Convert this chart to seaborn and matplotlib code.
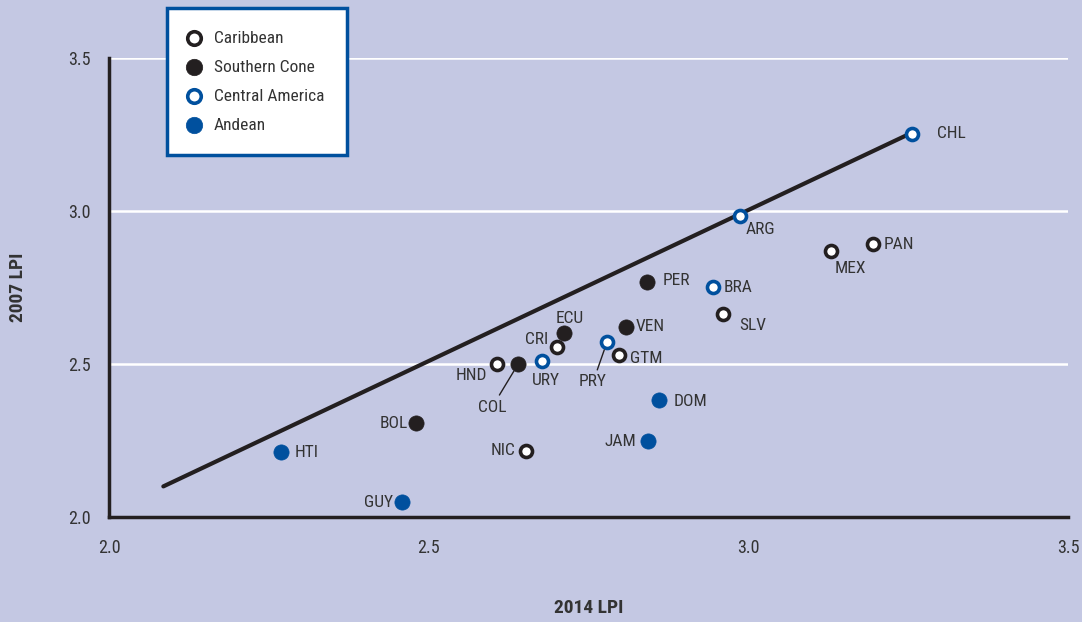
import pandas as pd
import numpy as np
import matplotlib
matplotlib.use('Agg')
import matplotlib.pyplot as plt
import matplotlib.font_manager as fm
import seaborn as sns

# values
countries = ['CHL', 'ARG', 'PAN', 'MEX', 'PER', 'BRA', 'SLV', 'VEN', 'ECU', 'CRI',
             'PRY', 'GTM', 'HND', 'COL', 'URY', 'DOM', 'BOL', 'JAM', 'NIC', 'HTI', 'GUY']
lpi_2014 = [3.256, 2.987, 3.195, 3.129, 2.842, 2.945, 2.960, 2.809, 2.712, 2.701,
            2.779, 2.798, 2.607, 2.640, 2.677, 2.860, 2.480, 2.843, 2.652, 2.269, 2.458]
lpi_2007 = [3.252, 2.984, 2.892, 2.869, 2.768, 2.752, 2.663, 2.621, 2.601, 2.556,
            2.572, 2.529, 2.500, 2.500, 2.510, 2.382, 2.307, 2.248, 2.216, 2.212, 2.049]
regions = ['Central America', 'Central America', 'Caribbean', 'Caribbean', 'Southern Cone',
           'Central America', 'Caribbean', 'Southern Cone', 'Southern Cone', 'Caribbean',
           'Central America', 'Caribbean', 'Caribbean', 'Southern Cone', 'Central America',
           'Andean', 'Southern Cone', 'Andean', 'Caribbean', 'Andean', 'Andean']
region_order = ['Caribbean', 'Southern Cone', 'Central America', 'Andean']

# reference line
line_x = [2.085, 3.25]
line_y = [2.10, 3.25]

# label offsets in pixels (dx, dy, ha)
label_pos = {
    'CHL': (25, 0, 'left'), 'ARG': (6, -14, 'left'), 'PAN': (11, 0, 'left'),
    'MEX': (4, -17, 'left'), 'PER': (15, 1, 'left'), 'BRA': (10, -1, 'left'),
    'SLV': (16, -11, 'left'), 'VEN': (9, 0, 'left'), 'ECU': (5, 15, 'center'),
    'CRI': (-9, 7, 'right'), 'GTM': (11, -3, 'left'), 'HND': (-10, -11, 'right'),
    'COL': (-26, -43, 'center'), 'URY': (4, -20, 'center'), 'PRY': (-14, -40, 'center'),
    'DOM': (15, -1, 'left'), 'BOL': (-8, 0, 'right'), 'JAM': (-12, 0, 'right'),
    'NIC': (-10, 0, 'right'), 'HTI': (14, 0, 'left'), 'GUY': (-9, 0, 'right'),
}
leader = ['COL', 'PRY']

df = pd.DataFrame({'country': countries, 'x': lpi_2014, 'y': lpi_2007, 'region': regions})

bg = '#c4c8e3'
blue = '#00509e'
black = '#231f20'
txt = '#333333'
styles = {
    'Caribbean': dict(facecolor='white', edgecolor=black),
    'Southern Cone': dict(facecolor=black, edgecolor=black),
    'Central America': dict(facecolor='white', edgecolor=blue),
    'Andean': dict(facecolor=blue, edgecolor=blue),
}

sns.set_style('white')
names = {f.name for f in fm.fontManager.ttflist}
fam = [n for n in ['Liberation Sans Narrow', 'Roboto Condensed', 'Roboto'] if n in names]
plt.rcParams['font.family'] = fam + ['DejaVu Sans']

fig = plt.figure(figsize=(10.82, 6.22), dpi=100)
fig.patch.set_facecolor(bg)
ax = fig.add_axes([109 / 1082, 1 - 517 / 622, (1068 - 109) / 1082, (517 - 58) / 622])
ax.set_facecolor(bg)

for y in [2.5, 3.0, 3.5]:
    ax.axhline(y, color='white', lw=1.8, zorder=0)

sns.lineplot(x=line_x, y=line_y, color=black, lw=3, ax=ax, zorder=2)

for reg in region_order:
    sub = df[df['region'] == reg]
    hollow = styles[reg]['facecolor'] == 'white'
    sns.scatterplot(data=sub, x='x', y='y', s=75 if hollow else 120,
                    linewidth=2.6 if hollow else 0.5,
                    facecolor=styles[reg]['facecolor'], edgecolor=styles[reg]['edgecolor'],
                    ax=ax, zorder=3, label=reg)

for _, r in df.iterrows():
    dx, dy, ha = label_pos[r['country']]
    kw = {}
    if r['country'] in leader:
        kw['arrowprops'] = dict(arrowstyle='-', color=black, lw=1, shrinkA=1, shrinkB=6)
    ax.annotate(r['country'], (r['x'], r['y']), xytext=(dx, dy), textcoords='offset pixels',
                ha=ha, va='center', fontsize=12.5, color=txt, **kw)

ax.set_xlim(2.0, 3.5)
ax.set_ylim(2.0, 3.5)
ax.set_xticks([2.0, 2.5, 3.0, 3.5])
ax.set_yticks([2.0, 2.5, 3.0, 3.5])
ax.set_xticklabels(['2.0', '2.5', '3.0', '3.5'])
ax.set_yticklabels(['2.0', '2.5', '3.0', '3.5'])
ax.tick_params(axis='x', direction='in', length=10, width=2.5, color=black, pad=16,
               labelsize=13, labelcolor=txt)
ax.tick_params(axis='y', length=0, pad=13, labelsize=13, labelcolor=txt)

for side in ['top', 'right']:
    ax.spines[side].set_visible(False)
for side in ['left', 'bottom']:
    ax.spines[side].set_color(black)
    ax.spines[side].set_linewidth(2.5)

ax.set_xlabel('2014 LPI', fontsize=14, fontweight='bold', color=txt, labelpad=30)
ax.set_ylabel('2007 LPI', fontsize=14, fontweight='bold', color=txt, labelpad=30)

leg = ax.legend(loc='upper left', bbox_to_anchor=(167 / 1082, 1 - 8 / 622),
                bbox_transform=fig.transFigure, borderaxespad=0, frameon=True,
                fancybox=False, fontsize=12.5, labelspacing=0.8, handletextpad=0.9,
                borderpad=1.3, handlelength=0.5, labelcolor=txt)
leg.get_frame().set_edgecolor(blue)
leg.get_frame().set_linewidth(2.5)
leg.get_frame().set_facecolor('white')
leg.get_frame().set_alpha(1)
for h, reg in zip(leg.legend_handles, region_order):
    if styles[reg]['facecolor'] == 'white':
        h.set_sizes([95])
    else:
        h.set_sizes([140])

fig.savefig('out.png', dpi=100, facecolor=bg)
